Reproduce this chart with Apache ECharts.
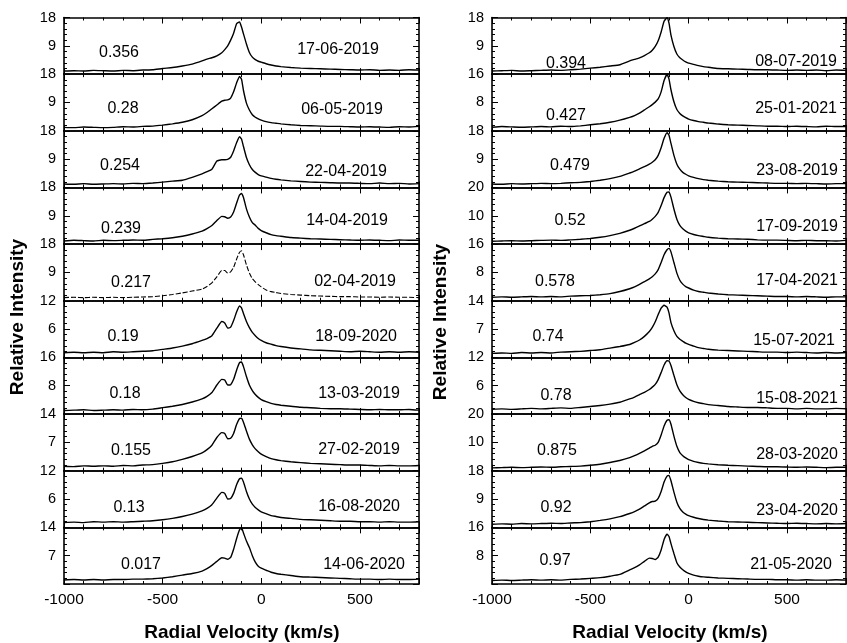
<!DOCTYPE html>
<html>
<head>
<meta charset="utf-8">
<script src="https://cdn.jsdelivr.net/npm/echarts@6/dist/echarts.min.js"></script>
<style>
  html, body { margin: 0; padding: 0; background: #fff; }
  #chart { width: 847px; height: 643px; }
</style>
</head>
<body>
<div id="chart"></div>
<script>
// Radial velocity grid (km/s) shared by every profile
const velocity = [-1000,-950,-900,-850,-800,-750,-700,-650,-600,-550,
  -500,-450,-400,-350,-300,-275,-250,-225,-200,-185,
  -170,-155,-140,-125,-110,-100,-90,-75,-60,-45,
  -30,-15,0,25,50,75,100,150,200,250,
  300,350,400,450,500,550,600,650,700,750,800];

// Left column, top to bottom
const leftDates  = ['17-06-2019','06-05-2019','22-04-2019','14-04-2019','02-04-2019','18-09-2020','13-03-2019','27-02-2019','16-08-2020','14-06-2020'];
const leftPhases = ['0.356','0.28','0.254','0.239','0.217','0.19','0.18','0.155','0.13','0.017'];
const leftMax    = [18,18,18,18,18,12,16,14,12,14];

// Right column, top to bottom
const rightDates  = ['08-07-2019','25-01-2021','23-08-2019','17-09-2019','17-04-2021','15-07-2021','15-08-2021','28-03-2020','23-04-2020','21-05-2020'];
const rightPhases = ['0.394','0.427','0.479','0.52','0.578','0.74','0.78','0.875','0.92','0.97'];
const rightMax    = [18,16,18,20,16,14,12,20,18,16];

// Relative intensity profiles (one value per velocity)
const p170619 = [1.0,1.1,1.0,1.2,1.1,1.0,1.2,1.1,1.3,1.4, 1.8,2.1,2.6,3.2,4.2,4.8,5.2,5.8,6.8,7.8, 9.0,10.8,13.0,16.0,16.6,15.0,12.8,9.6,6.9,5.4, 4.6,4.1,3.8,3.3,2.9,2.6,2.4,2.1,1.9,1.8, 1.7,1.6,1.5,1.4,1.3,1.4,1.2,1.3,1.2,1.4,1.3];
const p060519 = [1.1,1.0,1.2,1.1,1.0,1.1,1.3,1.2,1.4,1.5, 1.8,2.2,2.7,3.5,4.8,5.8,7.0,8.2,9.4,9.7, 9.8,10.4,12.4,15.2,17.3,16.4,12.8,8.8,6.6,5.1, 4.3,3.8,3.4,2.9,2.6,2.4,2.2,1.9,1.7,1.6, 1.5,1.4,1.4,1.3,1.2,1.3,1.2,1.1,1.3,1.2,1.4];
const p220419 = [1.1,1.0,1.2,1.0,1.1,1.2,1.1,1.3,1.2,1.4, 1.7,2.0,2.3,3.2,4.3,5.0,5.8,8.4,8.8,8.8, 8.9,9.6,11.6,14.2,16.1,15.4,13.0,9.5,7.2,5.7, 4.8,4.1,3.7,3.3,2.9,2.6,2.4,2.1,1.9,1.7, 1.6,1.5,1.4,1.4,1.3,1.2,1.4,1.2,1.3,1.1,1.2];
const p140419 = [1.0,1.2,1.1,1.0,1.2,1.1,1.2,1.3,1.2,1.5, 1.7,2.0,2.5,3.2,4.1,4.9,5.9,7.5,8.8,8.7, 8.2,8.6,10.2,13.0,15.6,16.1,14.8,11.2,8.6,6.8, 6.0,5.0,4.3,3.6,3.0,2.7,2.5,2.1,1.9,1.7, 1.6,1.5,1.4,1.3,1.2,1.3,1.2,1.1,1.3,1.2,1.2];
const p020419 = [1.0,1.1,1.0,1.1,1.0,1.1,1.0,1.1,1.2,1.3, 1.6,2.0,2.5,3.1,3.7,4.5,5.7,7.6,9.6,9.6, 8.8,9.2,10.6,13.2,15.4,15.9,14.6,11.4,8.8,7.0, 6.0,5.1,4.4,3.4,2.9,2.6,2.3,2.0,1.8,1.6, 1.5,1.4,1.3,1.3,1.2,1.2,1.1,1.2,1.1,1.1,1.0];
const p180920 = [1.0,1.1,1.0,1.1,1.0,1.2,1.1,1.2,1.3,1.4, 1.7,2.0,2.4,2.9,3.6,4.0,4.6,6.2,7.6,7.3, 6.2,6.4,7.8,9.6,10.9,10.5,9.3,7.6,6.3,5.3, 4.6,4.0,3.6,3.1,2.8,2.5,2.3,2.0,1.8,1.6, 1.5,1.4,1.3,1.2,1.3,1.2,1.1,1.2,1.1,1.2,1.1];
const p130319 = [1.0,1.1,1.2,1.0,1.1,1.2,1.1,1.3,1.2,1.4, 1.8,2.2,2.7,3.4,4.3,5.0,6.1,8.2,9.8,9.6, 8.2,8.3,9.8,12.4,14.5,14.7,13.4,10.6,8.2,6.6, 5.5,4.7,4.1,3.5,3.0,2.7,2.5,2.2,1.9,1.8, 1.6,1.5,1.5,1.4,1.3,1.2,1.3,1.2,1.2,1.3,1.1];
const p270219 = [1.1,1.0,1.2,1.1,1.2,1.1,1.3,1.2,1.4,1.5, 1.8,2.2,2.8,3.5,4.4,5.2,6.3,8.2,9.4,9.2, 7.9,8.0,9.2,11.4,12.9,13.0,12.0,9.8,7.8,6.4, 5.4,4.7,4.1,3.5,3.0,2.7,2.5,2.2,2.0,1.8, 1.7,1.6,1.5,1.4,1.4,1.3,1.2,1.3,1.2,1.2,1.3];
const p160820 = [1.0,1.1,1.0,1.2,1.1,1.2,1.1,1.2,1.3,1.4, 1.6,1.9,2.3,2.8,3.5,4.0,4.8,6.2,7.4,7.2, 6.0,6.1,7.2,9.0,10.3,10.4,9.6,7.6,6.0,4.9, 4.2,3.7,3.3,2.9,2.5,2.3,2.1,1.9,1.7,1.6, 1.5,1.4,1.3,1.3,1.2,1.2,1.1,1.2,1.1,1.1,1.2];
const p140620 = [1.0,1.1,1.0,1.1,1.0,1.1,1.1,1.2,1.2,1.3, 1.5,1.8,2.2,2.6,3.2,3.8,4.6,5.6,6.5,6.4, 6.1,6.6,8.6,11.2,13.4,13.9,12.6,10.6,9.0,7.0, 5.4,4.4,3.9,3.4,2.9,2.6,2.4,2.1,1.8,1.7, 1.6,1.5,1.4,1.3,1.2,1.2,1.1,1.2,1.1,1.1,1.2];

const p080719 = [1.0,1.1,1.2,1.0,1.1,1.2,1.3,1.2,1.4,1.6, 1.9,2.2,2.6,3.0,4.2,4.7,5.2,5.9,6.8,7.6, 8.8,10.6,13.4,16.8,17.9,16.2,12.4,8.8,6.4,5.2, 4.5,3.9,3.5,3.1,2.7,2.4,2.2,1.8,1.7,1.6, 1.5,1.4,1.4,1.3,1.2,1.3,1.2,1.3,1.1,1.3,1.2];
const p250121 = [1.0,1.2,1.1,1.0,1.1,1.2,1.1,1.3,1.2,1.4, 1.7,2.0,2.4,3.0,3.8,4.3,5.0,5.9,6.8,7.4, 8.1,9.0,11.0,14.2,15.9,14.6,11.6,8.2,6.0,4.9, 4.2,3.7,3.3,2.9,2.6,2.4,2.2,1.9,1.7,1.6, 1.5,1.4,1.3,1.3,1.2,1.3,1.2,1.1,1.3,1.2,1.2];
const p230819 = [1.1,1.0,1.2,1.1,1.2,1.3,1.2,1.3,1.5,1.6, 1.9,2.3,2.8,3.5,4.6,5.2,5.9,6.6,7.4,8.0, 8.8,10.2,12.6,15.6,17.4,16.6,14.0,10.2,7.4,5.8, 4.8,4.2,3.7,3.2,2.8,2.5,2.3,2.0,1.8,1.7, 1.6,1.5,1.4,1.3,1.3,1.2,1.3,1.2,1.1,1.2,1.2];
const p170919 = [1.0,1.1,1.2,1.1,1.2,1.3,1.4,1.3,1.5,1.7, 2.0,2.4,3.0,3.8,4.9,5.6,6.4,7.2,8.0,8.8, 9.8,11.2,13.6,16.4,18.3,18.4,16.6,12.4,8.8,6.6, 5.4,4.6,4.0,3.4,3.0,2.7,2.4,2.1,1.9,1.8, 1.7,1.5,1.4,1.4,1.3,1.2,1.3,1.2,1.2,1.1,1.3];
const p170421 = [1.0,1.1,1.0,1.1,1.2,1.1,1.2,1.1,1.3,1.4, 1.5,1.7,2.0,2.6,3.4,3.9,4.6,5.4,6.2,6.8, 7.6,8.8,10.8,13.0,14.4,14.8,13.8,10.8,7.8,5.8, 4.7,4.0,3.6,3.0,2.6,2.4,2.2,1.9,1.7,1.6, 1.5,1.4,1.3,1.2,1.2,1.1,1.2,1.1,1.0,1.1,1.1];
const p150721 = [1.0,1.1,1.0,1.2,1.1,1.2,1.1,1.3,1.4,1.5, 1.7,1.9,2.3,2.7,3.2,3.7,4.3,5.2,6.4,7.4, 8.8,10.6,12.2,12.9,12.4,11.0,8.6,6.6,5.2,4.5, 4.0,3.5,3.2,2.8,2.4,2.2,2.0,1.8,1.7,1.6, 1.5,1.4,1.3,1.3,1.2,1.3,1.2,1.1,1.2,1.1,1.2];
const p150821 = [1.0,1.1,1.0,1.1,1.2,1.1,1.2,1.3,1.2,1.4, 1.6,1.8,2.1,2.5,3.2,3.6,4.1,4.6,5.2,5.7, 6.3,7.3,8.8,10.4,11.3,11.2,10.3,8.2,6.2,4.9, 4.1,3.5,3.1,2.7,2.4,2.2,2.0,1.8,1.6,1.5, 1.4,1.4,1.3,1.2,1.2,1.1,1.2,1.1,1.1,1.2,1.1];
const p280320 = [1.0,1.1,1.2,1.1,1.2,1.3,1.2,1.4,1.5,1.6, 1.9,2.3,2.9,3.6,4.6,5.3,6.1,7.0,8.0,8.6, 9.0,10.0,12.6,15.8,17.8,18.0,16.4,12.2,8.6,6.4, 5.3,4.5,3.9,3.3,2.9,2.6,2.4,2.1,1.9,1.8, 1.6,1.5,1.4,1.4,1.3,1.2,1.3,1.2,1.1,1.2,1.2];
const p230420 = [1.0,1.1,1.0,1.2,1.1,1.2,1.3,1.2,1.4,1.5, 1.8,2.2,2.7,3.4,4.4,5.0,5.8,6.8,7.8,8.2, 8.3,9.2,11.4,14.4,16.3,16.5,14.8,11.2,8.0,6.0, 4.9,4.2,3.7,3.2,2.8,2.5,2.3,2.0,1.8,1.7, 1.6,1.5,1.4,1.3,1.2,1.3,1.2,1.1,1.2,1.1,1.2];
const p210520 = [1.0,1.1,1.0,1.1,1.2,1.1,1.2,1.1,1.3,1.4, 1.6,1.8,2.2,2.7,4.0,4.6,5.4,6.4,7.3,7.2, 6.9,7.6,9.6,12.6,14.1,13.4,11.4,8.6,6.0,4.8, 4.0,3.4,3.0,2.5,2.2,2.0,1.9,1.7,1.6,1.5, 1.4,1.3,1.3,1.2,1.2,1.1,1.2,1.1,1.1,1.2,1.1];

const leftProfiles  = [p170619,p060519,p220419,p140419,p020419,p180920,p130319,p270219,p160820,p140620];
const rightProfiles = [p080719,p250121,p230819,p170919,p170421,p150721,p150821,p280320,p230420,p210520];

// ---- layout ----
const FONT = '"Liberation Sans", Arial, Helvetica, sans-serif';
const TOP = 17.5;
const PANEL_H = 56.65;
const BLACK = '#000';

const columns = [
  {
    left: 64, width: 355,
    dates: leftDates, phases: leftPhases, max: leftMax, profiles: leftProfiles,
    dashed: [false,false,false,false,true,false,false,false,false,false],
    phaseX:  [119,123,120,121,131,123,125,131,129,141],
    phaseDy: [35.5,34,35,41,38.7,36,36,37,37,37],
    dateR:   [379,383,387,388,396,397,400,400,400,405],
    dateDy:  [32.5,35,41,33,37.7,35.4,36,36,36,37],
    xTitle: 242, yTitleX: 17.5, yTitleY: 317
  },
  {
    left: 492, width: 354,
    dates: rightDates, phases: rightPhases, max: rightMax, profiles: rightProfiles,
    dashed: [false,false,false,false,false,false,false,false,false,false],
    phaseX:  [566,566,570,570,555,548,556,557,556,555],
    phaseDy: [46,41,35,33,37.7,36,38,37,37,33],
    dateR:   [837,837,838,838,838,835,838,838,838,832],
    dateDy:  [44,34,40,39,36,39.4,41,41,40,37],
    xTitle: 670, yTitleX: 441, yTitleY: 322
  }
];

const grid = [], xAxis = [], yAxis = [], series = [], graphic = [];

function xAxisDef(g, pos, showLabel) {
  return {
    gridIndex: g, type: 'value', position: pos,
    min: -1000, max: 800, interval: 500,
    axisLine: { show: true, onZero: false, lineStyle: { color: BLACK, width: 1.6 } },
    axisTick: { show: true, inside: true, length: 6, lineStyle: { color: BLACK, width: 1 } },
    minorTick: { show: true, splitNumber: 5, length: 3, lineStyle: { color: BLACK, width: 1 } },
    splitLine: { show: false }, minorSplitLine: { show: false },
    axisLabel: {
      show: showLabel, color: BLACK, fontSize: 15.5, fontFamily: FONT, margin: 8,
      showMaxLabel: false,
      formatter: v => (v % 500 === 0 ? String(v) : '')
    }
  };
}

function yAxisDef(g, pos, max, showLabel) {
  return {
    gridIndex: g, type: 'value', position: pos,
    min: 0, max: max, interval: max / 2,
    axisLine: { show: true, onZero: false, lineStyle: { color: BLACK, width: 1.6 } },
    axisTick: { show: true, inside: true, length: 6, lineStyle: { color: BLACK, width: 1 } },
    minorTick: { show: true, splitNumber: 5, length: 3, lineStyle: { color: BLACK, width: 1 } },
    splitLine: { show: false }, minorSplitLine: { show: false },
    axisLabel: {
      show: showLabel, color: BLACK, fontSize: 14.5, fontFamily: FONT, margin: 8,
      formatter: v => (v === 0 ? '' : String(v))
    }
  };
}

columns.forEach(col => {
  for (let i = 0; i < 10; i++) {
    const g = grid.length;
    const top = TOP + i * PANEL_H;
    grid.push({ left: col.left, top: top, width: col.width, height: PANEL_H, show: false });
    xAxis.push(xAxisDef(g, 'bottom', i === 9));
    xAxis.push(xAxisDef(g, 'top', false));
    yAxis.push(yAxisDef(g, 'left', col.max[i], true));
    yAxis.push(yAxisDef(g, 'right', col.max[i], false));
    const prof = col.profiles[i];
    series.push({
      type: 'line',
      xAxisIndex: 2 * g, yAxisIndex: 2 * g,
      data: velocity.map((v, k) => [v, prof[k]]),
      showSymbol: false, symbol: 'none',
      smooth: 0.15,
      clip: true,
      lineStyle: col.dashed[i]
        ? { color: BLACK, width: 1.1, type: [5, 2] }
        : { color: BLACK, width: 1.4 },
      silent: true, animation: false
    });
    graphic.push({
      type: 'text', x: col.phaseX[i], y: top + col.phaseDy[i], z: 100,
      style: { text: col.phases[i], font: '16px ' + FONT, fill: BLACK, align: 'center', verticalAlign: 'middle' }
    });
    graphic.push({
      type: 'text', x: col.dateR[i], y: top + col.dateDy[i], z: 100,
      style: { text: col.dates[i], font: '16px ' + FONT, fill: BLACK, align: 'right', verticalAlign: 'middle' }
    });
  }
  graphic.push({
    type: 'text', x: col.xTitle, y: 633, z: 100,
    style: { text: 'Radial Velocity (km/s)', font: 'bold 19px ' + FONT, fill: BLACK, align: 'center', verticalAlign: 'middle' }
  });
  graphic.push({
    type: 'text', x: col.yTitleX, y: col.yTitleY, rotation: Math.PI / 2, z: 100,
    style: { text: 'Relative Intensity', font: 'bold 19px ' + FONT, fill: BLACK, align: 'center', verticalAlign: 'middle' }
  });
});

const chart = echarts.init(document.getElementById('chart'), null, { renderer: 'canvas' });
chart.setOption({
  animation: false,
  backgroundColor: '#fff',
  textStyle: { fontFamily: FONT },
  grid, xAxis, yAxis, series, graphic
});
</script>
</body>
</html>
